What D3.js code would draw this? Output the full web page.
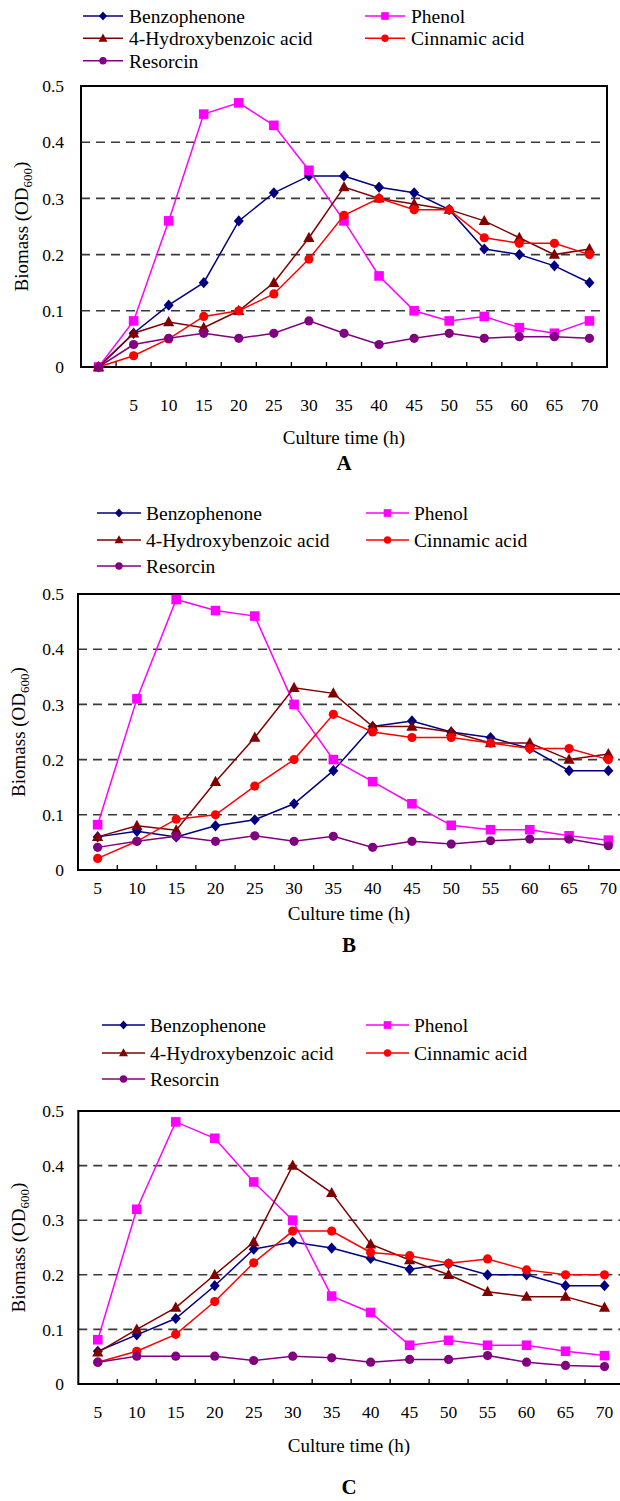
<!DOCTYPE html>
<html><head><meta charset="utf-8">
<script src="https://cdn.jsdelivr.net/npm/d3@7"></script>
<style>
html,body{margin:0;padding:0;background:#fff;}
svg text{font-family:"Liberation Serif","DejaVu Serif","Times New Roman",serif !important;fill:#000;}
</style></head>
<body>
<svg id="chart" width="620" height="1501" font-family="Liberation Serif, DejaVu Serif, serif"></svg>
<script>
// ---------- DATA ----------
const seriesNames = ["Benzophenone", "Phenol", "4-Hydroxybenzoic acid", "Cinnamic acid", "Resorcin"];
const seriesColors = ["#000080", "#ff00ff", "#800000", "#ff0000", "#800080"];
const seriesMarkers = ["diamond", "square", "triangle", "circle", "circle"];

const hoursA = [0, 5, 10, 15, 20, 25, 30, 35, 40, 45, 50, 55, 60, 65, 70];
const hoursBC = [5, 10, 15, 20, 25, 30, 35, 40, 45, 50, 55, 60, 65, 70];

const yTicks = [0, 0.1, 0.2, 0.3, 0.4, 0.5];
const yTickLabels = ["0", "0.1", "0.2", "0.3", "0.4", "0.5"];
const gridValues = [0.1, 0.2, 0.3, 0.4];

// Panel A
const benzophenoneA = [0, 0.06, 0.11, 0.15, 0.26, 0.31, 0.34, 0.34, 0.32, 0.31, 0.28, 0.21, 0.20, 0.18, 0.15];
const phenolA       = [0, 0.082, 0.26, 0.45, 0.47, 0.43, 0.35, 0.26, 0.162, 0.10, 0.082, 0.09, 0.07, 0.06, 0.082];
const hydroxyA      = [0, 0.06, 0.08, 0.07, 0.10, 0.15, 0.23, 0.32, 0.30, 0.29, 0.28, 0.26, 0.23, 0.20, 0.21];
const cinnamicA     = [0, 0.02, 0.05, 0.09, 0.10, 0.13, 0.192, 0.27, 0.30, 0.28, 0.28, 0.23, 0.22, 0.22, 0.20];
const resorcinA     = [0, 0.04, 0.051, 0.06, 0.051, 0.06, 0.082, 0.06, 0.04, 0.051, 0.06, 0.051, 0.054, 0.054, 0.051];

// Panel B
const benzophenoneB = [0.06, 0.07, 0.06, 0.08, 0.091, 0.12, 0.18, 0.26, 0.27, 0.25, 0.24, 0.22, 0.18, 0.18];
const phenolB       = [0.082, 0.31, 0.49, 0.47, 0.46, 0.30, 0.20, 0.16, 0.12, 0.081, 0.073, 0.073, 0.062, 0.054];
const hydroxyB      = [0.06, 0.08, 0.072, 0.16, 0.24, 0.33, 0.32, 0.26, 0.26, 0.25, 0.23, 0.23, 0.20, 0.21];
const cinnamicB     = [0.021, 0.052, 0.092, 0.10, 0.152, 0.20, 0.282, 0.25, 0.24, 0.24, 0.23, 0.22, 0.22, 0.20];
const resorcinB     = [0.041, 0.052, 0.061, 0.052, 0.062, 0.052, 0.061, 0.041, 0.052, 0.047, 0.053, 0.056, 0.056, 0.044];

// Panel C
const benzophenoneC = [0.06, 0.09, 0.12, 0.18, 0.247, 0.26, 0.249, 0.23, 0.21, 0.22, 0.20, 0.20, 0.18, 0.18];
const phenolC       = [0.081, 0.32, 0.48, 0.45, 0.37, 0.30, 0.161, 0.131, 0.071, 0.08, 0.071, 0.071, 0.06, 0.052];
const hydroxyC      = [0.058, 0.10, 0.14, 0.20, 0.26, 0.40, 0.35, 0.256, 0.227, 0.20, 0.169, 0.16, 0.16, 0.14];
const cinnamicC     = [0.04, 0.06, 0.091, 0.151, 0.222, 0.28, 0.28, 0.241, 0.235, 0.221, 0.229, 0.209, 0.20, 0.20];
const resorcinC     = [0.04, 0.051, 0.051, 0.051, 0.043, 0.051, 0.048, 0.04, 0.045, 0.045, 0.052, 0.04, 0.034, 0.032];

const panelLetters = ["A", "B", "C"];
const xTitle = "Culture time (h)";

// ---------- LAYOUT ----------
const FONT = '"Liberation Serif","DejaVu Serif","Times New Roman",serif';
const layouts = [
  {hours: hoursA, series: [benzophenoneA, phenolA, hydroxyA, cinnamicA, resorcinA], hideFirstLabel: true,
   left: 81, right: 607, top: 86, bottom: 367, xLabelY: 405, xTitleY: 437, letterY: 463, yTitleX: 21,
   legRows: [16, 38.3, 60.7], legCol1: [83, 123, 129], legCol2: [365, 405, 411], titleCx: 344},
  {hours: hoursBC, series: [benzophenoneB, phenolB, hydroxyB, cinnamicB, resorcinB], hideFirstLabel: false,
   left: 78, right: 628, top: 594, bottom: 870, xLabelY: 888, xTitleY: 913, letterY: 945, yTitleX: 18,
   legRows: [513, 540, 566], legCol1: [97, 141, 146], legCol2: [366, 409, 414], titleCx: 349},
  {hours: hoursBC, series: [benzophenoneC, phenolC, hydroxyC, cinnamicC, resorcinC], hideFirstLabel: false,
   left: 78.3, right: 624, top: 1111, bottom: 1384, xLabelY: 1412, xTitleY: 1445, letterY: 1487, yTitleX: 18,
   legRows: [1025, 1053, 1079], legCol1: [102, 145, 150], legCol2: [366, 409, 414], titleCx: 349}
];

const svg = d3.select("#chart");
svg.append("rect").attr("width", 620).attr("height", 1501).attr("fill", "#fff");

function markerPath(type, s) {
  if (type === "diamond") return `M0,${-5.6*s}L${5*s},0L0,${5.6*s}L${-5*s},0Z`;
  if (type === "square") return `M${-4.8*s},${-4.8*s}h${9.6*s}v${9.6*s}h${-9.6*s}Z`;
  if (type === "triangle") return `M0,${-6*s}L${5.6*s},${4.2*s}L${-5.6*s},${4.2*s}Z`;
  const r = 4.6*s;
  return `M${r},0A${r},${r} 0 1,1 ${-r},0A${r},${r} 0 1,1 ${r},0Z`;
}

layouts.forEach((L, pi) => {
  const g = svg.append("g");
  const x = d3.scaleBand().domain(L.hours).range([L.left, L.right]).padding(0);
  const y = d3.scaleLinear().domain([0, 0.5]).range([L.bottom, L.top]);
  const cx = h => x(h) + x.bandwidth() / 2;

  // legend
  const legPos = [[L.legCol1, 0], [L.legCol2, 0], [L.legCol1, 1], [L.legCol2, 1], [L.legCol1, 2]];
  seriesNames.forEach((name, i) => {
    const [col, row] = legPos[i];
    const ly = L.legRows[row];
    g.append("line").attr("x1", col[0]).attr("x2", col[1]).attr("y1", ly).attr("y2", ly)
      .attr("stroke", seriesColors[i]).attr("stroke-width", 1.6);
    g.append("path").attr("d", markerPath(seriesMarkers[i], 0.8))
      .attr("transform", `translate(${(col[0] + col[1]) / 2},${ly})`).attr("fill", seriesColors[i]);
    g.append("text").attr("x", col[2]).attr("y", ly).attr("dy", "0.35em")
      .style("font-family", FONT).style("font-size", "19.5px").text(name);
  });

  // gridlines
  g.selectAll(".grid").data(gridValues).enter().append("line")
    .attr("x1", L.left).attr("x2", L.right).attr("y1", d => y(d)).attr("y2", d => y(d))
    .attr("stroke", "#3a3a3a").attr("stroke-width", 1.6).attr("stroke-dasharray", "9,6");

  // y axis labels
  const yAxis = d3.axisLeft(y).tickValues(yTicks).tickSize(0).tickPadding(L.left - 64)
    .tickFormat((d, i) => yTickLabels[i]);
  const yg = g.append("g").attr("transform", `translate(${L.left},0)`).call(yAxis).attr("font-family", null);
  yg.select(".domain").remove();
  yg.selectAll("text").style("font-size", "17.5px").style("font-family", FONT);

  // x axis labels (at category centres)
  const xAxis = d3.axisBottom(x).tickSize(0).tickPadding(0)
    .tickFormat((d, i) => (L.hideFirstLabel && i === 0) ? "" : String(d));
  const xg = g.append("g").attr("transform", `translate(0,${L.xLabelY})`).call(xAxis).attr("font-family", null);
  xg.select(".domain").remove();
  xg.selectAll("text").attr("y", 0).attr("dy", "0.35em").style("font-size", "17.5px").style("font-family", FONT);

  // inward tick marks at category boundaries
  const bounds = L.hours.slice(1).map(h => x(h));
  g.selectAll(".xt").data(bounds).enter().append("line")
    .attr("x1", d => d).attr("x2", d => d).attr("y1", L.bottom).attr("y2", L.bottom - 5)
    .attr("stroke", "#000").attr("stroke-width", 1.3);

  // frame
  g.append("rect").attr("x", L.left).attr("y", L.top).attr("width", L.right - L.left)
    .attr("height", L.bottom - L.top).attr("fill", "none").attr("stroke", "#000").attr("stroke-width", 2);

  // series
  const line = d3.line().x(d => cx(d[0])).y(d => y(d[1]));
  L.series.forEach((vals, si) => {
    const pts = L.hours.map((h, k) => [h, vals[k]]);
    g.append("path").attr("d", line(pts)).attr("fill", "none")
      .attr("stroke", seriesColors[si]).attr("stroke-width", 1.5);
    g.selectAll(null).data(pts).enter().append("path")
      .attr("d", markerPath(seriesMarkers[si], 1))
      .attr("transform", d => `translate(${cx(d[0])},${y(d[1])})`)
      .attr("fill", seriesColors[si]);
  });

  // y title
  const yt = g.append("text")
    .attr("transform", `translate(${L.yTitleX},${(L.top + L.bottom) / 2}) rotate(-90)`)
    .attr("text-anchor", "middle").attr("dy", "0.35em").style("font-family", FONT).style("font-size", "19px");
  yt.append("tspan").text("Biomass (OD");
  yt.append("tspan").text("600").style("font-size", "13px").attr("dy", "0.35em");
  yt.append("tspan").text(")").attr("dy", "-0.3em");

  // x title
  g.append("text").attr("x", L.titleCx).attr("y", L.xTitleY).attr("dy", "0.35em")
    .attr("text-anchor", "middle").style("font-family", FONT).style("font-size", "19px").text(xTitle);

  // panel letter
  g.append("text").attr("x", L.titleCx).attr("y", L.letterY).attr("dy", "0.35em")
    .attr("text-anchor", "middle").style("font-family", FONT).style("font-size", "21px")
    .style("font-weight", "bold").text(panelLetters[pi]);
});
</script>
</body></html>
